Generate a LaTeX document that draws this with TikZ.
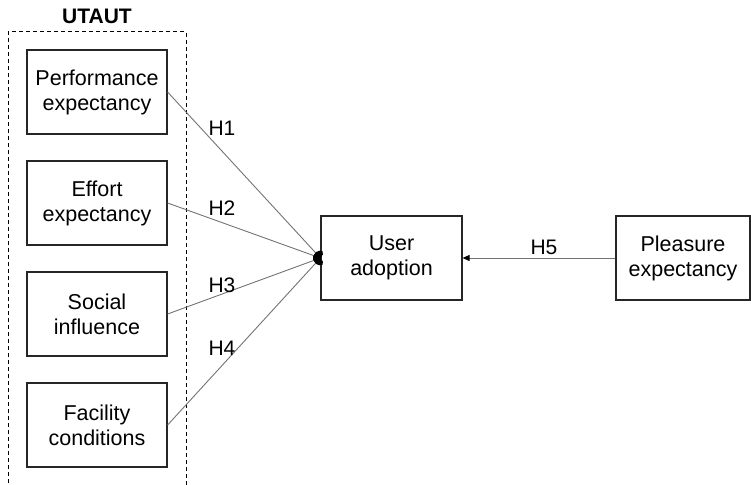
\documentclass[tikz,border=0pt]{standalone}
\usepackage{fontspec}
\setmainfont{Liberation Sans}
\usetikzlibrary{arrows.meta}
\begin{document}
\begin{tikzpicture}[x=1pt,y=-1pt,
  box/.style={draw=black!85,line width=1.2pt,minimum width=140pt,minimum height=84pt,
    align=center,font=\fontsize{21.5}{25}\selectfont,inner sep=0pt},
  link/.style={draw=black!55,line width=0.9pt},
  hlabel/.style={font=\fontsize{21}{24}\selectfont}]
\useasboundingbox (0,0) rectangle (751,484);
% UTAUT group frame (open at the bottom)
\coordinate (gbl) at (8,490);
\coordinate (gtl) at (8,32);
\coordinate (gtr) at (186,32);
\coordinate (gbr) at (186,490);
\draw[line width=1pt,dash pattern=on 4pt off 3pt] (gbl) -- (gtl) -- (gtr) -- (gbr);
\node[font=\bfseries\fontsize{21}{24}\selectfont] (title) at (97,16) {UTAUT};
% constructs
\node[box] (pe) at (97,92) {Performance\\expectancy};
\node[box] (ee) at (97,203) {Effort\\expectancy};
\node[box] (si) at (97,314) {Social\\influence};
\node[box] (fc) at (97,425) {Facility\\conditions};
\node[box,minimum width=141pt] (ua) at (391.5,258) {User\\adoption};
\node[box,minimum width=134pt] (pl) at (683,258) {Pleasure\\expectancy};
% hypothesised paths
\foreach \n in {pe,ee,si,fc}
  \draw[link,-{Circle[length=7pt,width=12pt,fill=black,color=black]}] (\n.east) -- (ua.west);
\draw[link,-{Triangle[length=7pt,width=6pt,fill=black,color=black]}] (pl.west) -- (ua.east);
% labels
\node[hlabel] (h1) at (222,128) {H1};
\node[hlabel] (h2) at (222,208) {H2};
\node[hlabel] (h3) at (222,285) {H3};
\node[hlabel] (h4) at (222,348) {H4};
\node[hlabel] (h5) at (544,247) {H5};
\end{tikzpicture}
\end{document}
